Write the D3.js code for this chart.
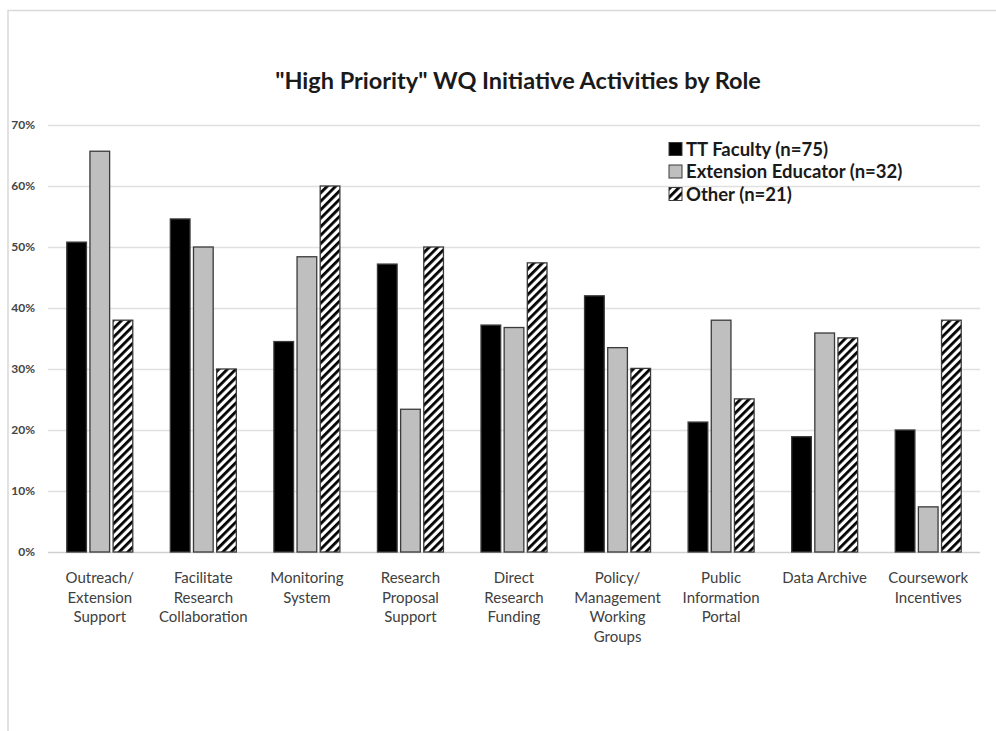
<!DOCTYPE html>
<html>
<head>
<meta charset="utf-8">
<script src="https://cdn.jsdelivr.net/npm/d3@7"></script>
<style>
  html, body { margin: 0; padding: 0; background: #fff; }
  svg { display: block; font-family: Lato, "Open Sans", "DejaVu Sans", sans-serif; }
</style>
</head>
<body>
<svg id="chart" width="996" height="731"></svg>
<script>
// Activity categories (multi-line labels)
const categories = [
  ["Outreach/", "Extension", "Support"],
  ["Facilitate", "Research", "Collaboration"],
  ["Monitoring", "System"],
  ["Research", "Proposal", "Support"],
  ["Direct", "Research", "Funding"],
  ["Policy/", "Management", "Working", "Groups"],
  ["Public", "Information", "Portal"],
  ["Data Archive"],
  ["Coursework", "Incentives"]
];

const seriesNames = ["TT Faculty (n=75)", "Extension Educator (n=32)", "Other (n=21)"];

// Share of respondents rating each activity "high priority" (%)
const ttFaculty = [50.8, 54.6, 34.5, 47.2, 37.2, 42.0, 21.3, 18.9, 20.0];
const extensionEducator = [65.7, 50.0, 48.4, 23.4, 36.8, 33.5, 38.0, 35.9, 7.4];
const other = [38.0, 30.0, 60.0, 50.0, 47.4, 30.1, 25.1, 35.1, 38.0];

const yTicks = [0, 10, 20, 30, 40, 50, 60, 70];

const series = [ttFaculty, extensionEducator, other];

const svg = d3.select("#chart");
const W = 996, H = 731;
const margin = { left: 48, right: 16, top: 125, bottom: 179 };

// Frame lines around the chart area
svg.append("line").attr("x1", 8).attr("x2", W).attr("y1", 10.5).attr("y2", 10.5)
  .attr("stroke", "#d9d9d9").attr("stroke-width", 1.5);
svg.append("line").attr("x1", 8).attr("x2", 8).attr("y1", 10).attr("y2", H)
  .attr("stroke", "#d9d9d9").attr("stroke-width", 1.5);

// Diagonal hatch for the "Other" series
const defs = svg.append("defs");
const pat = defs.append("pattern")
  .attr("id", "hatch")
  .attr("patternUnits", "userSpaceOnUse")
  .attr("width", 6).attr("height", 6)
  .attr("patternTransform", "rotate(45)");
pat.append("rect").attr("width", 6).attr("height", 6).attr("fill", "#fff");
pat.append("rect").attr("x", 0).attr("y", 0).attr("width", 2.8).attr("height", 6).attr("fill", "#000");

const fills = ["#000000", "#bfbfbf", "url(#hatch)"];

const x0 = d3.scaleBand()
  .domain(d3.range(categories.length))
  .range([margin.left, W - margin.right])
  .paddingInner(0).paddingOuter(0);

const groupW = 66;
const x1 = d3.scaleBand()
  .domain(d3.range(series.length))
  .range([0, groupW])
  .paddingInner(0.15);

const y = d3.scaleLinear()
  .domain([0, 70])
  .range([H - margin.bottom, margin.top]);

// Horizontal gridlines
svg.append("g")
  .selectAll("line")
  .data(yTicks)
  .join("line")
  .attr("x1", margin.left).attr("x2", W - margin.right)
  .attr("y1", d => Math.round(y(d)) + 0.5).attr("y2", d => Math.round(y(d)) + 0.5)
  .attr("stroke", d => d === 0 ? "#d0d0d0" : "#e0e0e0")
  .attr("stroke-width", 1.3);

// Y axis tick labels
const yAxis = d3.axisLeft(y).tickValues(yTicks).tickFormat(d => d + "%").tickSize(0).tickPadding(0);
const yg = svg.append("g").attr("transform", `translate(35,0)`).call(yAxis);
yg.select(".domain").remove();
yg.selectAll("text")
  .attr("font-family", "Lato, 'Open Sans', sans-serif")
  .attr("font-size", 12).attr("font-weight", "bold").attr("fill", "#444");

// Bars
const groups = svg.append("g")
  .selectAll("g")
  .data(categories.map((c, i) => i))
  .join("g")
  .attr("transform", i => `translate(${x0(i) + (x0.bandwidth() - groupW) / 2},0)`);

groups.selectAll("rect")
  .data(i => series.map((s, k) => ({ k, v: s[i] })))
  .join("rect")
  .attr("x", d => x1(d.k))
  .attr("width", x1.bandwidth())
  .attr("y", d => y(d.v))
  .attr("height", d => y(0) - y(d.v))
  .attr("fill", d => fills[d.k])
  .attr("stroke", "#3a3a3a")
  .attr("stroke-width", 1.3);

// Category labels
const xg = svg.append("g");
categories.forEach((lines, i) => {
  const t = xg.append("text")
    .attr("x", x0(i) + x0.bandwidth() / 2)
    .attr("y", y(0) + 31)
    .attr("text-anchor", "middle")
    .attr("font-size", 15)
    .attr("fill", "#404040");
  lines.forEach((ln, j) => {
    t.append("tspan")
      .attr("x", x0(i) + x0.bandwidth() / 2)
      .attr("dy", j === 0 ? 0 : 19.7)
      .text(ln);
  });
});

// Title
svg.append("text")
  .attr("x", 518).attr("y", 89)
  .attr("text-anchor", "middle")
  .attr("font-size", 23.5)
  .attr("font-weight", "bold")
  .attr("fill", "#1a1a1a")
  .text('"High Priority" WQ Initiative Activities by Role');

// Legend
const legend = svg.append("g").attr("transform", "translate(669,142)");
seriesNames.forEach((name, k) => {
  const g = legend.append("g").attr("transform", `translate(0,${k * 22.5})`);
  g.append("rect").attr("x", 0).attr("y", 0.5).attr("width", 13).attr("height", 13)
    .attr("fill", fills[k]).attr("stroke", "#3a3a3a").attr("stroke-width", 1);
  g.append("text").attr("x", 17).attr("y", 13.5)
    .attr("font-size", 18.5).attr("font-weight", "bold").attr("fill", "#1a1a1a")
    .text(name);
});
</script>
</body>
</html>
